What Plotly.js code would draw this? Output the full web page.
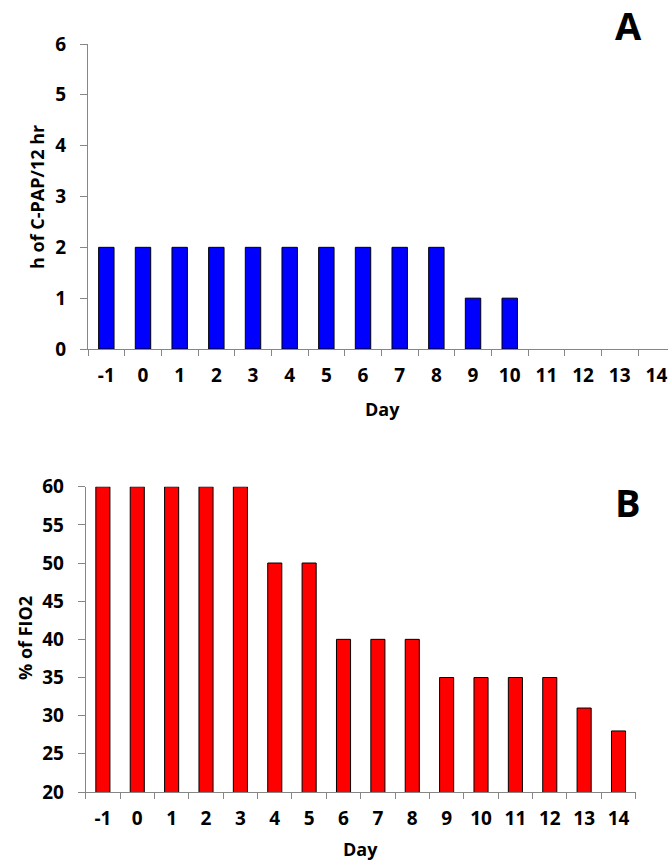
<!DOCTYPE html>
<html>
<head>
<meta charset="utf-8">
<script src="https://cdn.plot.ly/plotly-3.0.1.min.js"></script>
<style>html,body{margin:0;padding:0;background:#fff;}#chart{width:668px;height:862px;}</style>
</head>
<body>
<div id="chart"></div>
<script>
// ---- data ----
var days = ["-1","0","1","2","3","4","5","6","7","8","9","10","11","12","13","14"];
var cpapHours = [2,2,2,2,2,2,2,2,2,2,1,1,0,0,0,0];
var fio2Percent = [60,60,60,60,60,50,50,40,40,40,35,35,35,35,31,28];
var panelLabels = ["A","B"];
var yTitleA = "h of C-PAP/12 hr";
var yTitleB = "% of FIO2";
var xTitle = "Day";

// ---- layout helpers (pixel -> paper) ----
var W = 668, H = 862;
var mL = 85, mR = 0, mT = 44, mB = 70;
var pw = W - mL - mR, ph = H - mT - mB;
function px(x){ return (x - mL) / pw; }
function py(y){ return (H - mB - y) / ph; }

var FONT = "'Open Sans', sans-serif";
var axisCol = "#868686";

var traceA = {
  type: "bar", x: days, y: cpapHours, xaxis: "x", yaxis: "y",
  width: 0.42,
  marker: {color: "#0000FF", line: {color: "#000000", width: cpapHours.map(function(v){ return v === 0 ? 0 : 1; })}},
  hoverinfo: "x+y"
};
var traceB = {
  type: "bar", x: days, y: fio2Percent, xaxis: "x2", yaxis: "y2",
  width: 0.41,
  marker: {color: "#FF0000", line: {color: "#000000", width: 1}},
  hoverinfo: "x+y"
};

var tickFont = {family: FONT, size: 19, color: "#000", weight: 700};
var titleFont = {family: FONT, size: 18, color: "#000", weight: 700};

function xAxis(domain, range, anchor){
  return {
    type: "category", domain: domain, range: range, anchor: anchor,
    showline: true, linecolor: axisCol, linewidth: 1,
    ticks: "outside", tickson: "boundaries", ticklen: 6, tickcolor: axisCol,
    showgrid: false, zeroline: false, tickfont: tickFont,
    ticklabelstandoff: 9, automargin: false, fixedrange: true
  };
}
function yAxis(domain, range, dtick, anchor){
  return {
    domain: domain, range: range, dtick: dtick, anchor: anchor,
    showline: true, linecolor: axisCol, linewidth: 1,
    ticks: "outside", ticklen: 7, tickcolor: axisCol,
    showgrid: false, zeroline: false, tickfont: tickFont,
    ticklabelstandoff: 10, automargin: false, fixedrange: true
  };
}

var spacingA = 36.67;
var layout = {
  width: W, height: H,
  margin: {l: mL, r: mR, t: mT, b: mB, pad: 0},
  paper_bgcolor: "#fff", plot_bgcolor: "#fff",
  showlegend: false, bargap: 0.58,
  font: {family: FONT, color: "#000"},
  xaxis: xAxis([px(88), 1], [-0.5, -0.5 + (668 - 88) / spacingA], "y"),
  yaxis: yAxis([py(349), 1], [0, 6], 1, "x"),
  xaxis2: xAxis([px(85.7), px(635.7)], [-0.5, 15.5], "y2"),
  yaxis2: yAxis([0, py(486.7)], [20, 60], 5, "x2"),
  annotations: [
    {text: panelLabels[0], xref: "paper", yref: "paper", x: px(628), y: py(25), showarrow: false,
     font: {family: FONT, size: 38, color: "#000", weight: 700}, xanchor: "center", yanchor: "middle"},
    {text: panelLabels[1], xref: "paper", yref: "paper", x: px(628), y: py(502), showarrow: false,
     font: {family: FONT, size: 38, color: "#000", weight: 700}, xanchor: "center", yanchor: "middle"},
    {text: yTitleA, xref: "paper", yref: "paper", x: px(37), y: py(197), showarrow: false, textangle: -90,
     font: titleFont, xanchor: "center", yanchor: "middle"},
    {text: yTitleB, xref: "paper", yref: "paper", x: px(25), y: py(638), showarrow: false, textangle: -90,
     font: titleFont, xanchor: "center", yanchor: "middle"},
    {text: xTitle, xref: "paper", yref: "paper", x: px(382), y: py(409), showarrow: false,
     font: titleFont, xanchor: "center", yanchor: "middle"},
    {text: xTitle, xref: "paper", yref: "paper", x: px(360), y: py(849), showarrow: false,
     font: titleFont, xanchor: "center", yanchor: "middle"}
  ]
};

Plotly.newPlot("chart", [traceA, traceB], layout, {displayModeBar: false, staticPlot: true});
</script>
</body>
</html>
